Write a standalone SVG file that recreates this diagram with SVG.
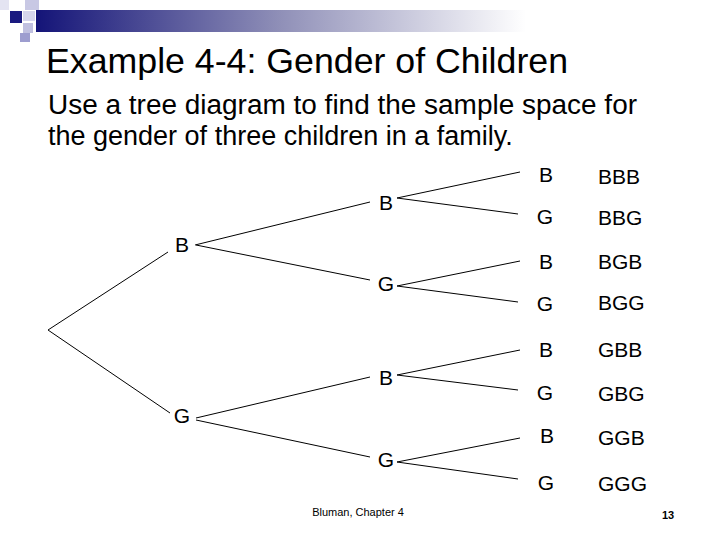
<svg xmlns="http://www.w3.org/2000/svg" width="720" height="540" viewBox="0 0 720 540">
<style>
text{font-family:"Liberation Sans",Arial,sans-serif;fill:#000}
.n{font-size:21px;text-anchor:middle}
.r{font-size:21px}
line{stroke:#000;stroke-width:1}
</style>
<defs><linearGradient id="g" x1="0" x2="1"><stop offset="0" stop-color="#141478"/><stop offset="0.5" stop-color="#9090b8"/><stop offset="1" stop-color="#ffffff"/></linearGradient></defs>
<rect width="720" height="540" fill="#fff"/>
<rect x="36" y="10" width="490" height="22" fill="url(#g)"/>
<rect x="0" y="0" width="9" height="10" fill="#e4e4f2"/>
<rect x="25" y="0" width="14" height="10" fill="#c8c8e4"/>
<rect x="10" y="11" width="12" height="12" fill="#1a1a80"/>
<rect x="23" y="11" width="12" height="10" fill="#d6d6ec"/>
<rect x="23" y="23" width="10" height="10" fill="#c0c0e0"/>
<rect x="20" y="33" width="10" height="9" fill="#9d9dcf"/>
<text x="46" y="73" font-size="35" textLength="522" lengthAdjust="spacingAndGlyphs">Example 4-4: Gender of Children</text>
<text x="48" y="114" font-size="27" textLength="589" lengthAdjust="spacingAndGlyphs">Use a tree diagram to find the sample space for</text>
<text x="48" y="145" font-size="27">the gender of three children in a family.</text>
<g id="connectors">
<line x1="48" y1="330" x2="168" y2="252"/><line x1="48" y1="330" x2="170" y2="413"/>
<line x1="195" y1="245" x2="370" y2="202"/><line x1="196" y1="245" x2="370" y2="280"/>
<line x1="196" y1="418" x2="370" y2="377"/><line x1="196" y1="420" x2="370" y2="457"/>
<line x1="397" y1="198" x2="520" y2="172"/><line x1="397" y1="198" x2="518" y2="214"/>
<line x1="397" y1="286" x2="520" y2="261"/><line x1="397" y1="286" x2="518" y2="302"/>
<line x1="397" y1="375" x2="520" y2="350"/><line x1="397" y1="375" x2="518" y2="390"/>
<line x1="397" y1="462" x2="520" y2="438"/><line x1="397" y1="462" x2="518" y2="479"/>
</g>
<g id="n1"><text class="n" x="182" y="252">B</text></g>
<g id="n2"><text class="n" x="182" y="423">G</text></g>
<g id="n3"><text class="n" x="386" y="210">B</text></g>
<g id="n4"><text class="n" x="386" y="291">G</text></g>
<g id="n5"><text class="n" x="386" y="385">B</text></g>
<g id="n6"><text class="n" x="386" y="467">G</text></g>
<g id="leaves">
<text class="n" x="546" y="182">B</text><text class="n" x="545" y="224">G</text>
<text class="n" x="546" y="269">B</text><text class="n" x="545" y="311">G</text>
<text class="n" x="546" y="357">B</text><text class="n" x="545" y="400">G</text>
<text class="n" x="547" y="443">B</text><text class="n" x="546" y="490">G</text>
</g>
<g id="results">
<text class="r" x="598" y="184">BBB</text><text class="r" x="598" y="225">BBG</text>
<text class="r" x="598" y="269">BGB</text><text class="r" x="598" y="310">BGG</text>
<text class="r" x="598" y="357">GBB</text><text class="r" x="598" y="401">GBG</text>
<text class="r" x="598" y="445">GGB</text><text class="r" x="598" y="491">GGG</text>
</g>
<text x="358" y="516" font-size="11" text-anchor="middle">Bluman, Chapter 4</text>
<text x="662" y="519" font-size="11" font-weight="bold">13</text>
</svg>
